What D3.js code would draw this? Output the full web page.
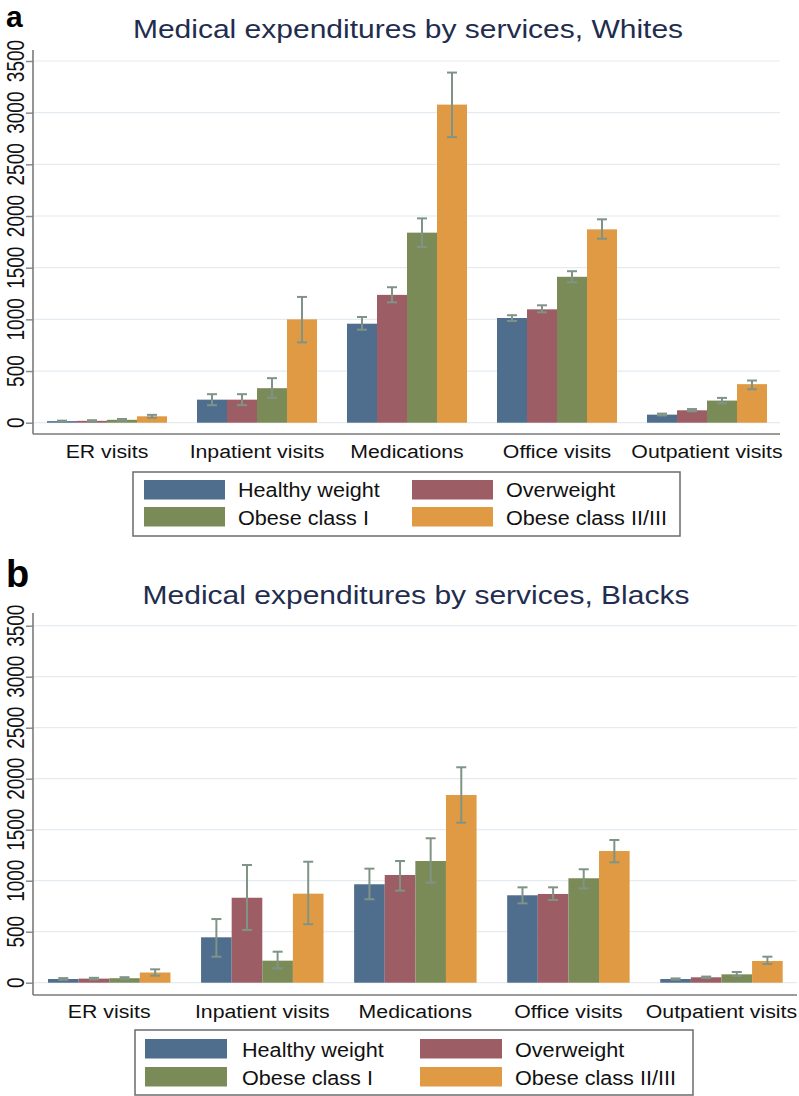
<!DOCTYPE html>
<html>
<head>
<meta charset="utf-8">
<script src="https://cdn.jsdelivr.net/npm/d3@7"></script>
<style>
    html, body { margin: 0; padding: 0; background: #fff; }
    svg { display: block; font-family: "Liberation Sans", Arial, sans-serif; }
</style>
</head>
<body>
<svg id="chart" width="799" height="1096"></svg>
<script>
// categories and groups
const services = ['ER visits', 'Inpatient visits', 'Medications', 'Office visits', 'Outpatient visits'];
const groups = ['Healthy weight', 'Overweight', 'Obese class I', 'Obese class II/III'];
const yTicks = [0, 500, 1000, 1500, 2000, 2500, 3000, 3500];

// Whites: mean, lower and upper CI per group (one value per service)
const whitesMean = [
    [15, 223, 958, 1013, 78],
    [18, 223, 1237, 1097, 120],
    [28, 334, 1839, 1412, 214],
    [62, 1000, 3078, 1871, 373]
];
const whitesLow = [
    [10, 169, 900, 985, 70],
    [13, 170, 1165, 1068, 110],
    [20, 240, 1700, 1359, 188],
    [48, 777, 2763, 1780, 324]
];
const whitesHigh = [
    [20, 276, 1023, 1040, 88],
    [24, 276, 1311, 1136, 132],
    [36, 431, 1977, 1466, 240],
    [76, 1217, 3388, 1968, 408]
];

// Blacks
const blacksMean = [
    [36, 445, 965, 857, 36],
    [40, 833, 1056, 870, 53],
    [44, 216, 1193, 1024, 82],
    [100, 873, 1840, 1291, 213]
];
const blacksLow = [
    [28, 255, 818, 778, 30],
    [32, 517, 902, 811, 45],
    [34, 141, 980, 925, 66],
    [69, 573, 1569, 1180, 183]
];
const blacksHigh = [
    [45, 624, 1118, 935, 42],
    [48, 1154, 1193, 935, 60],
    [54, 304, 1416, 1112, 105],
    [131, 1186, 2112, 1399, 255]
];

const colors = ['#4f6d8d', '#9c5d64', '#7b8b57', '#e09a44'];
const errColor = '#7f9486';

const panels = [
    {
        letter: 'a', letterY: 27, letterSize: 30,
        title: 'Medical expenditures by services, Whites', titleX: 408, titleY: 38,
        mean: whitesMean, low: whitesLow, high: whitesHigh,
        x0: 32, x1: 782, plotRight: 780, yZero: 422.7, yTop: 61, axisTop: 50, axisY: 434, labelY: 458,
        legend: { x: 133, y: 472, w: 547, h: 64, sw: [144, 412], swW: 81, text: [238, 506], rows: [480, 507], swH: 19.5, base: [497, 525] }
    },
    {
        letter: 'b', letterY: 587, letterSize: 38,
        title: 'Medical expenditures by services, Blacks', titleX: 416, titleY: 604,
        mean: blacksMean, low: blacksLow, high: blacksHigh,
        x0: 32.7, x1: 798, plotRight: 797, yZero: 982.7, yTop: 625.7, axisTop: 613, axisY: 995, labelY: 1018,
        legend: { x: 135, y: 1030, w: 558, h: 65, sw: [145, 420], swW: 82, text: [242, 515], rows: [1039, 1067], swH: 19.5, base: [1057, 1085] }
    }
];

const svg = d3.select('#chart');

panels.forEach(p => {
    const g = svg.append('g');
    const y = d3.scaleLinear().domain([0, 3500]).range([p.yZero, p.yTop]);
    const x = d3.scaleBand().domain(services).range([p.x0, p.x1]).paddingInner(0.2).paddingOuter(0.1);
    const xg = d3.scaleBand().domain(groups).range([0, x.bandwidth()]);

    g.append('text').attr('x', 6).attr('y', p.letterY)
        .attr('font-size', p.letterSize).attr('font-weight', 'bold').attr('fill', '#000').text(p.letter);

    g.append('text').attr('transform', `translate(${p.titleX},${p.titleY}) scale(1.2,1)`)
        .attr('text-anchor', 'middle').attr('font-size', 25).attr('fill', '#1f2d4f').text(p.title);

    // gridlines
    g.append('g').selectAll('line').data(yTicks).join('line')
        .attr('x1', 34).attr('x2', p.plotRight)
        .attr('y1', d => y(d)).attr('y2', d => y(d))
        .attr('stroke', '#e4ebf1').attr('stroke-width', 1.2);

    // y axis
    const yAxis = g.append('g').attr('transform', 'translate(33,0)')
        .call(d3.axisLeft(y).tickValues(yTicks).tickSize(7).tickFormat(''));
    yAxis.select('.domain').remove();
    yAxis.selectAll('.tick line').attr('stroke', '#8a8a8a').attr('stroke-width', 1.5);
    g.append('line').attr('x1', 33).attr('x2', 33).attr('y1', p.axisTop).attr('y2', p.axisY)
        .attr('stroke', '#7a7a7a').attr('stroke-width', 1.6);
    g.append('g').selectAll('text').data(yTicks).join('text')
        .attr('transform', d => `translate(24,${y(d)}) scale(1.25,1) rotate(-90)`)
        .attr('text-anchor', 'middle').attr('font-size', 19).attr('fill', '#111')
        .text(d => d);

    // x axis
    g.append('line').attr('x1', 33).attr('x2', p.plotRight).attr('y1', p.axisY).attr('y2', p.axisY)
        .attr('stroke', '#7a7a7a').attr('stroke-width', 1.6);
    g.append('g').selectAll('text').data(services).join('text')
        .attr('transform', d => `translate(${x(d) + x.bandwidth() / 2},${p.labelY}) scale(1.12,1)`)
        .attr('text-anchor', 'middle').attr('font-size', 19).attr('fill', '#111')
        .text(d => d);

    // bars
    groups.forEach((grp, gi) => {
        const rows = services.map((s, si) => ({ s, v: p.mean[gi][si], lo: p.low[gi][si], hi: p.high[gi][si] }));
        g.append('g').selectAll('rect').data(rows).join('rect')
            .attr('x', d => x(d.s) + xg(grp))
            .attr('width', xg.bandwidth())
            .attr('y', d => y(d.v))
            .attr('height', d => y(0) - y(d.v))
            .attr('fill', colors[gi]);
        const eb = g.append('g').attr('stroke', errColor).attr('stroke-width', 2);
        rows.forEach(d => {
            const cx = x(d.s) + xg(grp) + xg.bandwidth() / 2;
            eb.append('line').attr('x1', cx).attr('x2', cx).attr('y1', y(d.lo)).attr('y2', y(d.hi));
            eb.append('line').attr('x1', cx - 5).attr('x2', cx + 5).attr('y1', y(d.lo)).attr('y2', y(d.lo));
            eb.append('line').attr('x1', cx - 5).attr('x2', cx + 5).attr('y1', y(d.hi)).attr('y2', y(d.hi));
        });
    });

    // legend
    const L = p.legend;
    const lg = g.append('g');
    lg.append('rect').attr('x', L.x).attr('y', L.y).attr('width', L.w).attr('height', L.h)
        .attr('fill', '#fff').attr('stroke', '#6b6b6b').attr('stroke-width', 1.5);
    groups.forEach((grp, gi) => {
        const col = gi % 2, row = Math.floor(gi / 2);
        lg.append('rect').attr('x', L.sw[col]).attr('y', L.rows[row]).attr('width', L.swW).attr('height', L.swH)
            .attr('fill', colors[gi]);
        lg.append('text').attr('transform', `translate(${L.text[col]},${L.base[row]}) scale(1.03,1)`)
            .attr('font-size', 21).attr('fill', '#111').text(grp);
    });
});
</script>
</body>
</html>
